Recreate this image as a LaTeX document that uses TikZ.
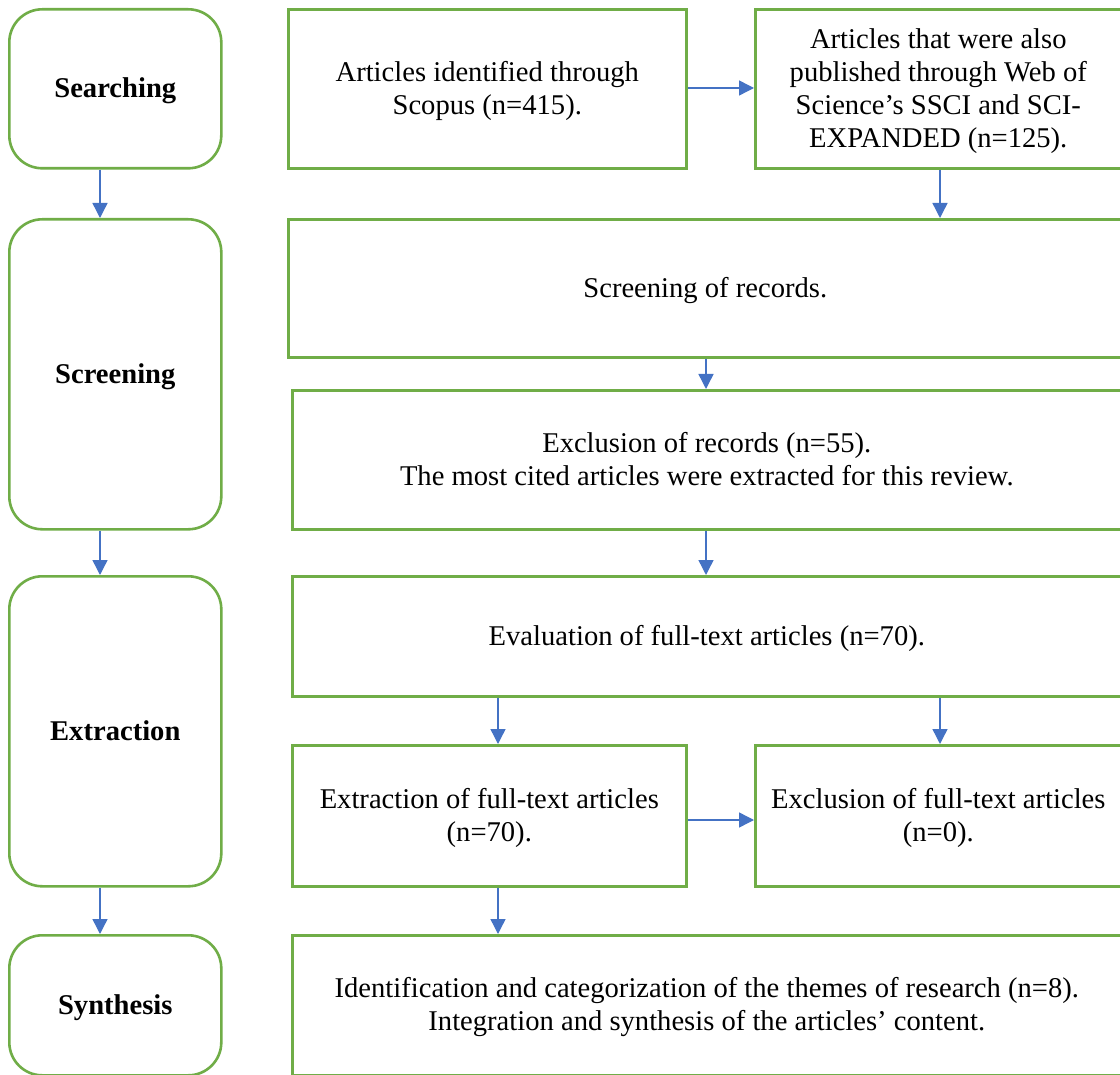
\documentclass[tikz,border=0pt]{standalone}
\usepackage{fontspec}
\setmainfont{Liberation Serif}
\usetikzlibrary{arrows.meta}
\definecolor{boxgreen}{RGB}{112,173,71}
\definecolor{arrblue}{RGB}{68,114,196}
\newcommand{\lowtxt}[1]{\raisebox{-2.5pt}[\height][\depth]{\begin{tabular}{@{}c@{}}#1\end{tabular}}}
\begin{document}
\begin{tikzpicture}[x=1pt,y=-1pt,
  stage/.style={draw=boxgreen,line width=2.6pt,rounded corners=33pt,fill=white,
    anchor=north west,inner sep=0pt,font=\fontsize{28.6}{33}\selectfont\bfseries,align=center},
  pbox/.style={draw=boxgreen,line width=2.6pt,fill=white,anchor=north west,inner sep=0pt,
    font=\fontsize{28.6}{33}\selectfont,align=center},
  arr/.style={draw=arrblue,line width=1.4pt,-{Triangle[length=15pt,width=15pt]}}]
\useasboundingbox (0,0) rectangle (1120,1075);
\clip (0,0) rectangle (1120,1075);
\fill[white] (0,0) rectangle (1120,1075);
% left stage boxes
\node[stage,minimum width=212pt,minimum height=159pt] (sea) at (8,8) {\lowtxt{Searching}};
\node[stage,minimum width=212pt,minimum height=310pt] (scr) at (8,218) {\lowtxt{Screening}};
\node[stage,minimum width=212pt,minimum height=310pt] (ext) at (8,575) {\lowtxt{Extraction}};
\node[stage,minimum width=212pt,minimum height=140pt] (syn) at (8,934) {\lowtxt{Synthesis}};
% process boxes
\node[pbox,minimum width=398pt,minimum height=159pt] (scopus) at (287,8) {\lowtxt{Articles identified through\\Scopus (n=415).}};
\node[pbox,minimum width=380pt,minimum height=159pt] (wos) at (754,8) {\hspace*{-14pt}\lowtxt{Articles that were also\\published through Web of\\Science’s SSCI and SCI-\\EXPANDED (n=125).}};
\node[pbox,minimum width=850pt,minimum height=138pt] (screc) at (287,218) {\hspace*{-16pt}\lowtxt{Screening of records.}};
\node[pbox,minimum width=845pt,minimum height=139pt] (exrec) at (291,389) {\hspace*{-16pt}\lowtxt{Exclusion of records (n=55).\\The most cited articles were extracted for this review.}};
\node[pbox,minimum width=845pt,minimum height=120pt] (eval) at (291,575) {\hspace*{-16pt}\lowtxt{Evaluation of full-text articles (n=70).}};
\node[pbox,minimum width=394pt,minimum height=141pt] (extft) at (291,744) {\lowtxt{Extraction of full-text articles\\(n=70).}};
\node[pbox,minimum width=380pt,minimum height=141pt] (exft) at (754,744) {\hspace*{-14pt}\lowtxt{Exclusion of full-text articles\\(n=0).}};
\node[pbox,minimum width=845pt,minimum height=140pt] (synth) at (291,934) {\hspace*{-16pt}\lowtxt{Identification and categorization of the themes of research (n=8).\\Integration and synthesis of the articles’ content.}};
% coordinates for connector columns
\coordinate (xl) at (100,0);
\coordinate (xm) at (706,0);
\coordinate (xr) at (940,0);
\coordinate (xc) at (498,0);
\coordinate (yt) at (0,88);
\coordinate (yb) at (0,820);
% connectors
\draw[arr] (sea.south -| xl) -- (scr.north -| xl);
\draw[arr] (scr.south -| xl) -- (ext.north -| xl);
\draw[arr] (ext.south -| xl) -- (syn.north -| xl);
\draw[arr] (scopus.east |- yt) -- (wos.west |- yt);
\draw[arr] (wos.south -| xr) -- (screc.north -| xr);
\draw[arr] (screc.south -| xm) -- (exrec.north -| xm);
\draw[arr] (exrec.south -| xm) -- (eval.north -| xm);
\draw[arr] (eval.south -| xc) -- (extft.north -| xc);
\draw[arr] (eval.south -| xr) -- (exft.north -| xr);
\draw[arr] (extft.east |- yb) -- (exft.west |- yb);
\draw[arr] (extft.south -| xc) -- (synth.north -| xc);
\end{tikzpicture}
\end{document}
